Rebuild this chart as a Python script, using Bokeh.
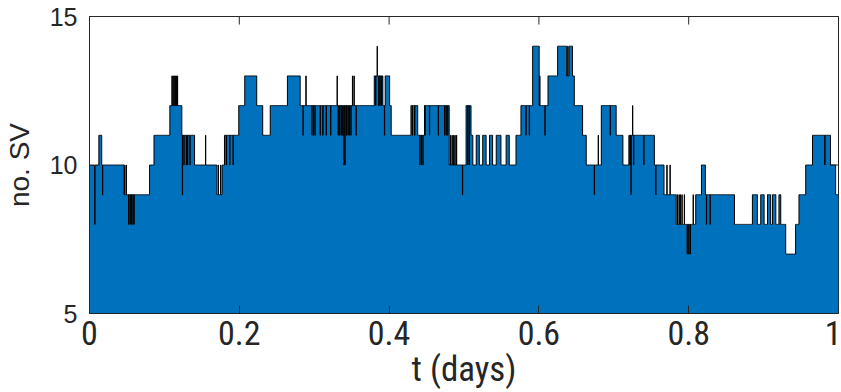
import numpy as np
from bokeh.plotting import figure
from bokeh.models import Range1d, FixedTicker
from bokeh.embed import file_html
from bokeh.resources import INLINE

# Number of visible satellites: piecewise-constant epochs (start time in days, count)
seg_t = [0.000, 0.0124, 0.016, 0.046, 0.080, 0.086, 0.107, 0.123, 0.140, 0.170,
         0.177, 0.180, 0.199, 0.207, 0.223, 0.231, 0.241, 0.264, 0.281, 0.380,
         0.3916, 0.3947, 0.4004, 0.4027, 0.429, 0.438, 0.447, 0.480, 0.5027, 0.5093,
         0.5116, 0.516, 0.5204, 0.525, 0.5293, 0.534, 0.538, 0.543, 0.5493, 0.556,
         0.5604, 0.5693, 0.576, 0.5916, 0.6003, 0.612, 0.625, 0.637, 0.640, 0.6445,
         0.647, 0.658, 0.663, 0.683, 0.703, 0.712, 0.720, 0.754, 0.767, 0.783,
         0.8093, 0.817, 0.822, 0.861, 0.885, 0.8916, 0.896, 0.9004, 0.905, 0.9093,
         0.9116, 0.916, 0.9204, 0.9227, 0.9293, 0.9427, 0.947, 0.956, 0.965, 0.989,
         0.996]
seg_sv = [10, 11, 10, 9, 10, 11, 12, 11, 10, 9,
          10, 11, 12, 13, 12, 11, 12, 13, 12, 13,
          12, 13, 12, 11, 12, 11, 12, 10, 12, 11,
          10, 11, 10, 11, 10, 11, 10, 11, 10, 11,
          10, 11, 12, 14, 12, 13, 14, 13, 14, 13,
          12, 11, 10, 12, 11, 10, 11, 10, 9, 8,
          9, 10, 9, 8, 9, 8, 9, 8, 9, 8,
          9, 8, 9, 8, 7, 8, 9, 10, 11, 10,
          9]

# Single-epoch flickers of satellites near the elevation mask (time in days, count)
blip_t = [0.0071, 0.0173, 0.047, 0.049, 0.052, 0.054, 0.056, 0.058, 0.0595,
          0.110, 0.1115, 0.113, 0.1145, 0.116, 0.1175, 0.124, 0.126, 0.129, 0.131, 0.134,
          0.155, 0.172, 0.175, 0.1827, 0.187, 0.1916,
          0.285, 0.289, 0.297, 0.299, 0.301, 0.308, 0.3116, 0.316, 0.322, 0.3305,
          0.332, 0.334, 0.336, 0.338, 0.3395, 0.341, 0.343, 0.345, 0.347, 0.349,
          0.351, 0.353, 0.356,
          0.382, 0.384, 0.386, 0.388, 0.390, 0.3937, 0.431, 0.434, 0.441, 0.443, 0.445,
          0.448, 0.4537, 0.4657, 0.474, 0.476, 0.478, 0.482, 0.484, 0.486, 0.488, 0.490,
          0.498, 0.505, 0.507, 0.5827, 0.587, 0.601, 0.608, 0.6385, 0.674, 0.679, 0.695,
          0.7215, 0.723, 0.725, 0.7265, 0.740, 0.756, 0.7707, 0.775,
          0.785, 0.787, 0.789, 0.791, 0.794, 0.798, 0.800, 0.802, 0.806,
          0.8235, 0.8284, 0.9815]
blip_sv = [8, 9, 10, 10, 8, 8, 8, 8, 8,
           13, 13, 13, 13, 13, 13, 9, 10, 10, 10, 10,
           11, 10, 10, 10, 10, 10,
           11, 13, 11, 11, 11, 11, 11, 11, 11, 13,
           11, 11, 11, 11, 10, 10, 11, 11, 11, 11,
           13, 13, 11,
           12, 14, 12, 12, 12, 11, 11, 11, 10, 10, 10,
           11, 11, 11, 11, 11, 11, 11, 11, 11, 11, 11,
           9, 10, 10, 11, 11, 13, 11, 14, 9, 11, 11,
           10, 9, 12, 10, 10, 9, 10, 10,
           9, 9, 9, 9, 9, 7, 7, 7, 9,
           8, 8, 10]

x_ticks = [0, 0.2, 0.4, 0.6, 0.8, 1]
x_tick_labels = ["0", "0.2", "0.4", "0.6", "0.8", "1"]
y_ticks = [5, 10, 15]
x_min, x_max = 0, 1
y_min, y_max = 5, 15

# 30 s epochs over one day
dt = 30.0 / 86400.0
t = np.arange(0.0, 1.0 + dt / 2, dt)
idx = np.searchsorted(np.array(seg_t), t, side="right") - 1
sv = np.array(seg_sv, dtype=float)[idx]
for bt, bv in zip(blip_t, blip_sv):
    sv[int(round(bt / dt))] = bv

INK = "#262626"
FILL = "#0072BD"
NARROW = "Liberation Sans Narrow, Roboto Condensed, Liberation Sans, sans-serif"

p = figure(width=841, height=392, output_backend="svg", toolbar_location=None,
           x_range=Range1d(x_min, x_max), y_range=Range1d(y_min, y_max),
           min_border_left=88, min_border_right=3, min_border_top=16,
           min_border_bottom=79)

p.varea_step(x=t, y1=np.zeros_like(sv), y2=sv, step_mode="after", fill_color=FILL)
p.step(x=t, y=sv, mode="after", line_color="black", line_width=1)

p.xgrid.visible = False
p.ygrid.visible = False
p.outline_line_color = INK
p.outline_line_width = 1
p.background_fill_color = "white"
p.border_fill_color = "white"

xa = p.xaxis[0]
xa.ticker = FixedTicker(ticks=x_ticks)
xa.major_label_overrides = {v: s for v, s in zip(x_ticks, x_tick_labels)}
xa.major_label_text_font = NARROW
xa.major_label_text_font_size = "34px"
xa.major_label_text_color = INK
xa.major_label_standoff = 7
xa.axis_label = "t (days)"
xa.axis_label_text_font = NARROW
xa.axis_label_text_font_size = "35px"
xa.axis_label_text_font_style = "normal"
xa.axis_label_text_color = INK
xa.axis_label_standoff = 1

ya = p.yaxis[0]
ya.ticker = FixedTicker(ticks=y_ticks)
ya.major_label_text_font = "Liberation Sans"
ya.major_label_text_font_size = "25px"
ya.major_label_text_color = INK
ya.major_label_standoff = 12
ya.axis_label = "no. SV"
ya.axis_label_text_font = "Liberation Sans"
ya.axis_label_text_font_size = "28px"
ya.axis_label_text_font_style = "normal"
ya.axis_label_text_color = INK
ya.axis_label_standoff = 12

for ax in (xa, ya):
    ax.axis_line_color = INK
    ax.axis_line_width = 1
    ax.major_tick_line_color = INK
    ax.major_tick_in = 8
    ax.major_tick_out = 0
    ax.minor_tick_line_color = None

# mirrored inward ticks along the top and right edges of the box
p.ray(x=x_ticks, y=[y_max] * len(x_ticks), length=8, length_units="screen",
      angle=-np.pi / 2, line_color=INK, line_width=1)
p.ray(x=[x_max] * len(y_ticks), y=y_ticks, length=8, length_units="screen",
      angle=np.pi, line_color=INK, line_width=1)

open("out.html", "w").write(file_html(p, INLINE))
